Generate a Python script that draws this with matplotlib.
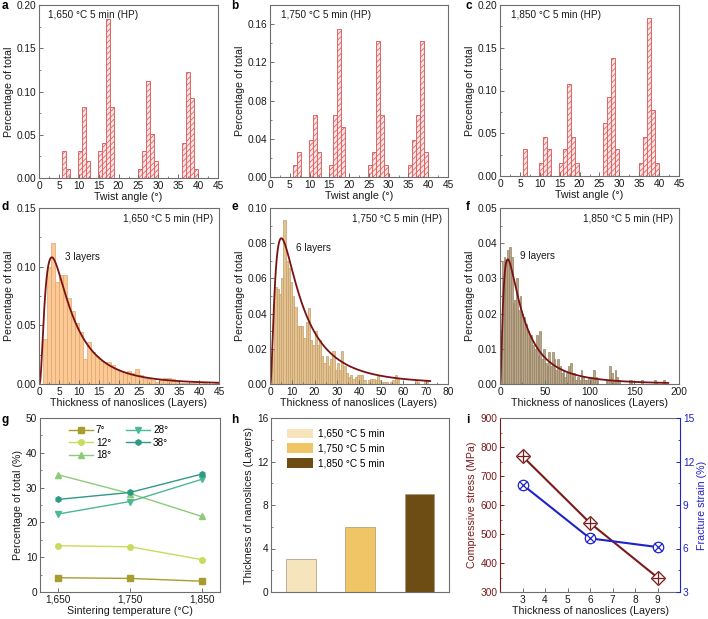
import numpy as np
import matplotlib
matplotlib.use('Agg')
import matplotlib.pyplot as plt
from matplotlib.patches import Patch
from matplotlib.ticker import MultipleLocator, FormatStrFormatter

plt.rcParams['font.family'] = ['Liberation Sans', 'DejaVu Sans']
plt.rcParams['font.size'] = 7
plt.rcParams['hatch.linewidth'] = 0.6

# ---------------- data ----------------
cond_labels = ['1,650 °C 5 min (HP)', '1,750 °C 5 min (HP)', '1,850 °C 5 min (HP)']

# twist angle histograms (bin centres, fractions)
a_centers = [6.4, 7.4, 10.4, 11.4, 12.4, 15.4, 16.4, 17.4, 18.4, 25.4, 26.4, 27.4, 28.4, 29.4, 36.4, 37.4, 38.4, 39.4]
a_vals = [0.031, 0.010, 0.031, 0.082, 0.020, 0.031, 0.041, 0.184, 0.082, 0.010, 0.031, 0.112, 0.051, 0.020, 0.041, 0.122, 0.092, 0.010]
b_centers = [6.4, 7.4, 10.4, 11.4, 12.4, 15.4, 16.4, 17.4, 18.4, 25.4, 26.4, 27.4, 28.4, 29.4, 35.4, 36.4, 37.4, 38.4, 39.4]
b_vals = [0.013, 0.026, 0.039, 0.065, 0.026, 0.013, 0.065, 0.155, 0.052, 0.013, 0.026, 0.142, 0.065, 0.013, 0.013, 0.039, 0.065, 0.142, 0.026]
c_centers = [6.4, 10.4, 11.4, 12.4, 15.4, 16.4, 17.4, 18.4, 19.4, 26.4, 27.4, 28.4, 29.4, 35.4, 36.4, 37.4, 38.4, 39.4]
c_vals = [0.031, 0.015, 0.046, 0.031, 0.015, 0.031, 0.108, 0.046, 0.015, 0.062, 0.092, 0.138, 0.031, 0.015, 0.046, 0.185, 0.077, 0.015]

# thickness histograms (bin width 1 for d, e; 2 for f), starting at 0
d_vals = [0.000, 0.038, 0.100, 0.120, 0.087, 0.093, 0.093, 0.073, 0.062, 0.052, 0.044, 0.021, 0.036, 0.027,
          0.024, 0.020, 0.019, 0.019, 0.016, 0.013, 0.011, 0.010, 0.011, 0.009, 0.013, 0.008, 0.005, 0.004,
          0.003, 0.002, 0.003, 0.005, 0.005, 0.004, 0.002, 0.001, 0.001, 0.001, 0.001, 0.002, 0.002, 0.001,
          0.000, 0.000, 0.001]
e_vals = [0.008, 0.020, 0.055, 0.054, 0.051, 0.060, 0.093, 0.070, 0.066, 0.058, 0.050, 0.044, 0.033, 0.033,
          0.033, 0.026, 0.035, 0.043, 0.025, 0.022, 0.030, 0.022, 0.025, 0.016, 0.012, 0.016, 0.010, 0.014,
          0.019, 0.008, 0.012, 0.008, 0.019, 0.010, 0.006, 0.004, 0.005, 0.003, 0.004, 0.005, 0.005, 0.005,
          0.002, 0.000, 0.002, 0.003, 0.003, 0.002, 0.005, 0.002, 0.001, 0.001, 0.001, 0.000, 0.001, 0.002,
          0.005, 0.003, 0.000, 0.000, 0.000, 0.000, 0.000, 0.000, 0.000, 0.002, 0.001, 0.000, 0.000, 0.002,
          0.002]
f_vals = [0.012, 0.035, 0.036, 0.035, 0.038, 0.039, 0.036, 0.023, 0.024, 0.030, 0.021, 0.025, 0.020, 0.019,
          0.017, 0.015, 0.013, 0.014, 0.011, 0.010, 0.014, 0.008, 0.015, 0.007, 0.010, 0.006, 0.005, 0.009,
          0.005, 0.009, 0.007, 0.004, 0.007, 0.005, 0.003, 0.004, 0.002, 0.003, 0.005, 0.006, 0.002, 0.003,
          0.001, 0.002, 0.001, 0.004, 0.002, 0.001, 0.001, 0.002, 0.001, 0.002, 0.004, 0.002, 0.001, 0.000,
          0.000, 0.000, 0.000, 0.001, 0.001, 0.005, 0.003, 0.001, 0.004, 0.002, 0.001, 0.000, 0.000, 0.000,
          0.000, 0.000, 0.001, 0.001, 0.000, 0.000, 0.000, 0.000, 0.000, 0.001, 0.000, 0.000, 0.000, 0.000,
          0.000, 0.000, 0.001, 0.000, 0.000, 0.000, 0.000, 0.001, 0.000, 0.000]
d_width, e_width, f_width = 1, 1, 2

# log-normal fits: (xc, w, A, x_end)
d_fit = (6.82, 0.87, 1.10, 45)
e_fit = (12.58, 0.95, 1.58, 72)
f_fit = (23.4, 1.00, 1.26, 188)
layer_labels = ['3 layers', '6 layers', '9 layers']

# panel g
temps = [1650, 1750, 1850]
temp_labels = ['1,650', '1,750', '1,850']
g_series = {
    '7°': [4.1, 3.9, 3.1],
    '12°': [13.3, 13.0, 9.3],
    '18°': [33.7, 28.3, 21.7],
    '28°': [22.4, 26.0, 32.4],
    '38°': [26.6, 28.6, 33.9],
}

# panel h
h_labels = ['1,650 °C 5 min', '1,750 °C 5 min', '1,850 °C 5 min']
h_vals = [3, 6, 9]

# panel i
i_layers = [3, 6, 9]
i_stress = [768, 538, 350]
i_strain = [10.4, 6.7, 6.1]

# ---------------- styling ----------------
W, H = 708, 619
fig = plt.figure(figsize=(W / 100, H / 100), dpi=100)
SP = '#6e6e6e'
TXT = '#1a1a1a'
TFS = 7.3   # tick label size
LFS = 7.7   # axis label size
AFS = 7.2   # annotation size


def ax_at(l, r, t, b):
    return fig.add_axes([l / W, (H - b) / H, (r - l) / W, (b - t) / H])


def style(ax, xmaj, ymaj, xmin=None, ymin=None, yfmt=None):
    for s in ax.spines.values():
        s.set_color(SP)
        s.set_linewidth(0.8)
    ax.tick_params(direction='in', length=3, width=0.7, color=SP, labelsize=TFS, labelcolor=TXT, pad=2)
    ax.tick_params(which='minor', direction='in', length=1.6, width=0.6, color=SP)
    ax.xaxis.set_major_locator(MultipleLocator(xmaj))
    ax.yaxis.set_major_locator(MultipleLocator(ymaj))
    if xmin:
        ax.xaxis.set_minor_locator(MultipleLocator(xmin))
    if ymin:
        ax.yaxis.set_minor_locator(MultipleLocator(ymin))
    if yfmt:
        ax.yaxis.set_major_formatter(FormatStrFormatter(yfmt))


def letter(x, y, s):
    fig.text(x / W, 1 - y / H, s, fontsize=8.5, weight='bold', ha='left', va='center')


# ----- a, b, c -----
tw_boxes = [(39, 218, 5, 178), (270, 448, 5, 177), (500, 679, 5, 176)]
tw_data = [(a_centers, a_vals, 0.20, 0.05), (b_centers, b_vals, 0.18, 0.04), (c_centers, c_vals, 0.20, 0.05)]
tw_textx = [0.05, 0.062, 0.061]
for k in range(3):
    ax = ax_at(*tw_boxes[k])
    cx, cv, ytop, ystep = tw_data[k]
    ax.bar(cx, cv, width=1.0, facecolor='#fde6e6', edgecolor='#e06464', hatch='//////', linewidth=0.7)
    ax.set_xlim(0, 45)
    ax.set_ylim(0, ytop)
    style(ax, 5, ystep, 2.5, ystep / 2, '%.2f')
    ax.set_xlabel('Twist angle (°)', fontsize=LFS, color=TXT, labelpad=1)
    ax.set_ylabel('Percentage of total', fontsize=LFS, color=TXT, labelpad=2)
    ax.text(tw_textx[k], 0.94, cond_labels[k], transform=ax.transAxes, fontsize=AFS, color=TXT,
            ha='left', va='center')

# ----- d, e, f -----
th_boxes = [(39, 219, 208, 384), (270, 448, 208, 384), (500, 679, 208, 384)]
th_vals = [d_vals, e_vals, f_vals]
th_w = [d_width, e_width, f_width]
th_fit = [d_fit, e_fit, f_fit]
th_face = ['#fbc991', '#e4c290', '#baa689']
th_edge = ['#dca676', '#c49f6c', '#978466']
th_xlim = [45, 80, 200]
th_ylim = [0.15, 0.10, 0.05]
th_xstep = [5, 10, 50]
th_ystep = [0.05, 0.02, 0.01]
th_lab = [(6.5, 0.108), (11.7, 0.0773), (22.3, 0.0364)]
for k in range(3):
    ax = ax_at(*th_boxes[k])
    vals = th_vals[k]
    wd = th_w[k]
    lefts = np.arange(len(vals)) * wd
    ax.bar(lefts, vals, width=wd, align='edge', facecolor=th_face[k], edgecolor=th_edge[k], linewidth=0.5)
    xc, w, A, xend = th_fit[k]
    xs = np.linspace(0.05, xend, 600)
    ys = A / (np.sqrt(2 * np.pi) * w * xs) * np.exp(-(np.log(xs / xc)) ** 2 / (2 * w ** 2))
    ax.plot(xs, ys, color='#7a1214', lw=1.3)
    ax.set_xlim(0, th_xlim[k])
    ax.set_ylim(0, th_ylim[k])
    style(ax, th_xstep[k], th_ystep[k], th_xstep[k] / 2, th_ystep[k] / 2, '%.2f')
    ax.set_xlabel('Thickness of nanoslices (Layers)', fontsize=LFS, color=TXT, labelpad=1)
    ax.set_ylabel('Percentage of total', fontsize=LFS, color=TXT, labelpad=2)
    ax.text(0.968, 0.9375, cond_labels[k], transform=ax.transAxes, fontsize=AFS, color=TXT,
            ha='right', va='center')
    ax.text(th_lab[k][0], th_lab[k][1], layer_labels[k], fontsize=AFS, color=TXT, ha='left', va='center')

# ----- g -----
ax = ax_at(40, 220, 418, 592)
g_colors = ['#a89c30', '#c9db5c', '#8ccc78', '#4cb894', '#2e9a86']
g_markers = ['s', 'o', '^', 'v', 'h']
for (name, vals), col, mk in zip(g_series.items(), g_colors, g_markers):
    ax.plot(temps, vals, color=col, lw=1.0, marker=mk, markersize=4, label=name)
ax.set_xlim(1625, 1875)
ax.set_ylim(0, 50)
style(ax, 100, 10, None, 5)
ax.set_xticks(temps)
ax.set_xticklabels(temp_labels)
ax.set_xlabel('Sintering temperature (°C)', fontsize=LFS, color=TXT, labelpad=1)
ax.set_ylabel('Percentage of total (%)', fontsize=LFS, color=TXT, labelpad=2)
ax.legend(ncol=2, loc='upper left', bbox_to_anchor=(0.11, 1.01), frameon=False, fontsize=AFS,
          handlelength=2.4, columnspacing=1.5, labelspacing=0.25, handletextpad=0.3)

# ----- h -----
ax = ax_at(271, 449, 418, 592)
h_colors = ['#f6e4bd', '#f0c566', '#6e4d14']
xpos = np.arange(len(h_vals))
ax.bar(xpos, h_vals, width=0.5, color=h_colors, edgecolor='#a89478', linewidth=0.5)
ax.set_xlim(-0.5, 2.5)
ax.set_ylim(0, 16)
style(ax, 1, 4, None, 2)
ax.set_xticks([])
ax.set_ylabel('Thickness of nanoslices (Layers)', fontsize=LFS, color=TXT, labelpad=2)
handles = [Patch(facecolor=c, edgecolor='none') for c in h_colors]
ax.legend(handles, h_labels, loc='upper left', bbox_to_anchor=(0.04, 0.99), frameon=False, fontsize=AFS,
          handlelength=2.6, handleheight=1.1, labelspacing=0.45, handletextpad=0.5)

# ----- i -----
ax = ax_at(500, 680, 418, 592)
RED = '#7b1a1a'
BLUE = '#1f22c8'
ax.plot(i_layers, i_stress, color=RED, lw=1.5, zorder=2)
ax.plot(i_layers, i_stress, linestyle='none', marker='D', markersize=7, mfc='white', mec=RED, mew=0.9, zorder=3)
ax.plot(i_layers, i_stress, linestyle='none', marker='+', markersize=8, mec=RED, mew=0.9, zorder=4)
ax.set_xlim(2, 10)
ax.set_ylim(300, 900)
style(ax, 1, 100, None, 50)
ax.set_xticks(range(3, 10))
ax.tick_params(axis='y', colors=RED, labelcolor=RED)
ax.spines['left'].set_color(RED)
ax.spines['right'].set_visible(False)
ax.set_xlabel('Thickness of nanoslices (Layers)', fontsize=LFS, color=TXT, labelpad=1)
ax.set_ylabel('Compressive stress (MPa)', fontsize=LFS, color=RED, labelpad=2)
ax2 = ax.twinx()
ax2.plot(i_layers, i_strain, color=BLUE, lw=1.5, zorder=2)
ax2.plot(i_layers, i_strain, linestyle='none', marker='o', markersize=7.5, mfc='white', mec=BLUE, mew=0.9, zorder=3)
ax2.plot(i_layers, i_strain, linestyle='none', marker='x', markersize=5.5, mec=BLUE, mew=0.9, zorder=4)
ax2.set_ylim(3, 15)
for s in ax2.spines.values():
    s.set_visible(False)
ax2.spines['right'].set_visible(True)
ax2.spines['right'].set_color(BLUE)
ax2.spines['right'].set_linewidth(0.8)
ax2.yaxis.set_major_locator(MultipleLocator(3))
ax2.yaxis.set_minor_locator(MultipleLocator(1.5))
ax2.tick_params(direction='in', length=3, width=0.7, colors=BLUE, labelcolor=BLUE, labelsize=TFS, pad=2)
ax2.tick_params(which='minor', direction='in', length=1.6, width=0.6, colors=BLUE)
ax2.set_ylabel('Fracture strain (%)', fontsize=LFS, color=BLUE, labelpad=2)

# panel letters
for s, x, y in [('a', 2, 6), ('b', 231, 6), ('c', 466, 6),
                ('d', 2, 207), ('e', 231, 207), ('f', 466, 207),
                ('g', 2, 420), ('h', 231, 420), ('i', 466, 420)]:
    letter(x, y, s)

fig.savefig('out.png', dpi=100)
